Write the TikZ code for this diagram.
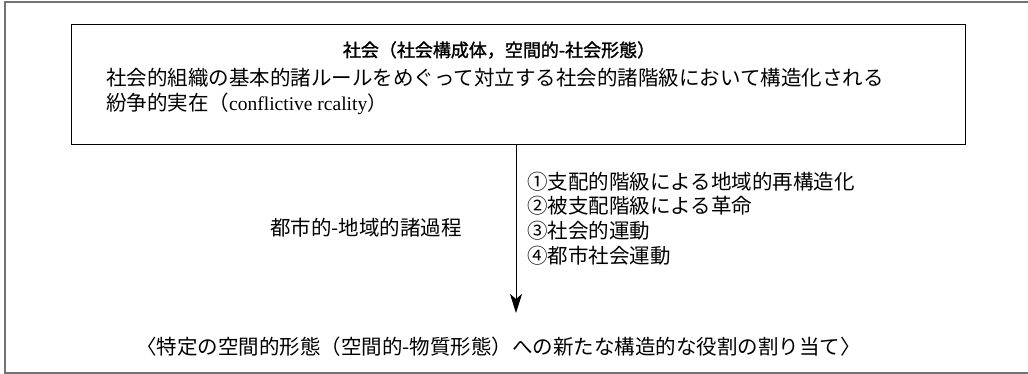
\documentclass[tikz,border=0pt]{standalone}
\usepackage{fontspec}
\setmainfont{Liberation Serif}
\newfontfamily\jp{Noto Sans CJK JP}
\newfontfamily\jpb{Noto Sans CJK JP}[FakeBold=1.5]
\usetikzlibrary{arrows.meta}
\begin{document}
\begin{tikzpicture}[x=1pt,y=-1pt,
  frameline/.style={draw=black!55,line width=1.2pt},
  boxline/.style={draw=black,line width=1pt},
  txt/.style={font=\jp\fontsize{20.5}{22}\selectfont,inner sep=0pt,anchor=west},
  flow/.style={draw=black,line width=0.9pt,-{Stealth[length=19pt,width=12pt,inset=5pt]}}]
\useasboundingbox (0,0) rectangle (1028,374);
% outer frame
\coordinate (ftl) at (5,2);
\coordinate (ftr) at (1028,2);
\coordinate (fbl) at (5,373);
\coordinate (fbr) at (1028,373);
\draw[frameline] (ftr) -- (ftl) -- (fbl) -- (fbr);
% society box
\node[boxline,minimum width=894pt,minimum height=120pt,inner sep=0pt] (soc) at (518,85) {};
\node[font=\jpb\fontsize{18}{22}\selectfont,inner sep=0pt] (title) at (499,50) {社会（社会構成体，空間的-社会形態）};
\node[txt] (l2) at (106,78) {社会的組織の基本的諸ルールをめぐって対立する社会的諸階級において構造化される};
\node[txt] (l3) at (106,104) {紛争的実在（\fontsize{19.5}{22}\selectfont\rmfamily conflictive rcality\jp）};
% process
\coordinate (tip) at (516,313);
\draw[flow] (soc.south -| tip) -- (tip);
\node[txt] (proc) at (270,228) {都市的-地域的諸過程};
\node[txt] (p1) at (527,182) {①支配的階級による地域的再構造化};
\node[txt] (p2) at (527,206) {②被支配階級による革命};
\node[txt] (p3) at (527,231) {③社会的運動};
\node[txt] (p4) at (527,256) {④都市社会運動};
% result
\node[txt] (alloc) at (136,347) {〈特定の空間的形態（空間的-物質形態）への新たな構造的な役割の割り当て〉};
\end{tikzpicture}
\end{document}
